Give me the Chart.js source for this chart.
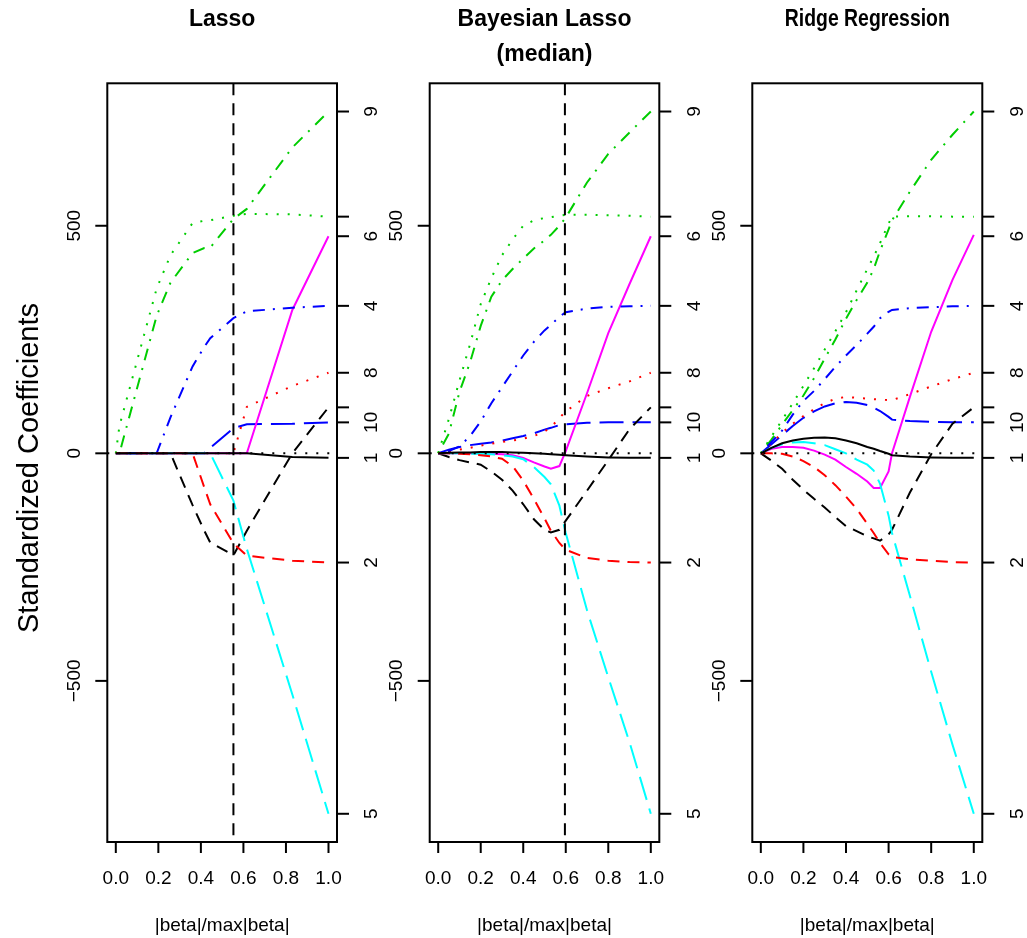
<!DOCTYPE html>
<html>
<head>
<meta charset="utf-8">
<script src="https://cdn.jsdelivr.net/npm/chart.js@4.4.1/dist/chart.umd.min.js"></script>
<style>
  html, body { margin: 0; padding: 0; background: #fff; }
  #wrap { position: relative; width: 1027px; height: 938px; }
  canvas { position: absolute; left: 0; top: 0; }
</style>
</head>
<body>
<div id="wrap">
  <canvas id="lasso" width="1027" height="938"></canvas>
  <canvas id="blasso" width="1027" height="938"></canvas>
  <canvas id="ridge" width="1027" height="938"></canvas>
</div>
<script>
// variables: age, sex, bmi, map, tc, ldl, hdl, tch, ltg, glu (numbered 1..10)
const olsCoef = [-10, -240, 520, 324, -792, 477, 101, 177, 751, 68];
const rightLabels = ['1', '2', '', '4', '5', '6', '', '8', '9', '10'];
const leftTicks = [-500, 0, 500];
const xTicks = [0, 0.2, 0.4, 0.6, 0.8, 1.0];

// Lasso path (|beta|/max|beta| at each breakpoint)
const lassoX = [0, 0.017, 0.192, 0.257, 0.361, 0.416, 0.444, 0.553, 0.616, 0.83, 1.0];
const lassoPaths = [
  [0, 0, 0, 0, 0, 0, 0, 0, 0, -8, -10],                    // 1
  [0, 0, 0, 0, 0, -75, -112, -198, -225, -236, -240],      // 2
  [0, 60, 362, 435, 506, 511, 512, 522, 526, 525, 520],    // 3
  [0, 0, 0, 79, 191, 234, 253, 297, 312, 320, 324],        // 4
  [0, 0, 0, 0, 0, 0, 0, -104, -210, -530, -792],           // 5
  [0, 0, 0, 0, 0, 0, 0, 0, 0, 315, 477],                   // 6
  [0, 0, 0, 0, -114, -170, -196, -224, -170, 0, 101],      // 7
  [0, 0, 0, 0, 0, 0, 0, 0, 102, 148, 177],                 // 8
  [0, 0, 302, 375, 440, 451, 452, 515, 537, 672, 751],     // 9
  [0, 0, 0, 0, 0, 0, 12, 55, 64, 65, 68]                   // 10
];

// Bayesian lasso posterior medians
const blassoX = [0, 0.05, 0.1, 0.15, 0.2, 0.25, 0.3, 0.35, 0.4, 0.45, 0.5, 0.53, 0.57, 0.6, 0.7, 0.8, 0.9, 1.0];
const blassoPaths = [
  [0, 1, 2, 2, 3, 3, 3, 2, 1, 0, -1, -2, -3, -4, -7, -9, -10, -10],
  [0, 0, -1, -2, -4, -7, -12, -28, -60, -100, -143, -170, -197, -212, -230, -236, -239, -240],
  [0, 75, 160, 240, 328, 385, 435, 470, 500, 512, 517, 519, 522, 524, 524, 523, 522, 520],
  [0, 5, 15, 38, 70, 110, 145, 180, 215, 245, 270, 282, 300, 310, 318, 322, 323, 324],
  [0, 0, 0, -1, -1, -2, -4, -7, -13, -30, -52, -68, -115, -175, -345, -492, -635, -792],
  [0, 0, 0, 0, 0, -1, -2, -4, -10, -20, -29, -34, -28, 5, 132, 264, 372, 477],
  [0, -8, -15, -20, -25, -40, -58, -82, -112, -145, -168, -174, -168, -148, -82, -15, 53, 101],
  [0, 3, 8, 12, 17, 21, 25, 28, 32, 38, 48, 57, 78, 92, 126, 143, 158, 177],
  [0, 43, 135, 200, 280, 344, 380, 405, 428, 450, 468, 480, 500, 518, 595, 658, 705, 751],
  [0, 8, 14, 18, 21, 24, 28, 33, 38, 44, 52, 56, 62, 64, 67, 68, 68, 68]
];

// Ridge regression
const ridgeX = [0, 0.05, 0.1, 0.15, 0.2, 0.25, 0.3, 0.35, 0.4, 0.45, 0.5, 0.53, 0.56, 0.6, 0.616, 0.7, 0.8, 0.9, 1.0];
const ridgePaths = [
  [0, 12, 22, 28, 32, 34, 35, 33, 28, 22, 14, 10, 5, -1, -4, -7, -9, -10, -10],
  [0, 0, -1, -7, -17, -30, -48, -70, -95, -122, -155, -175, -197, -222, -228, -233, -236, -239, -240],
  [0, 37, 73, 110, 148, 187, 228, 268, 310, 358, 405, 432, 462, 505, 520, 521, 521, 520, 520],
  [0, 25, 50, 85, 115, 137, 163, 190, 215, 238, 263, 278, 297, 311, 315, 319, 321, 323, 324],
  [0, 12, 20, 24, 25, 22, 18, 9, 0, -14, -25, -38, -67, -137, -175, -313, -480, -640, -792],
  [0, 10, 14, 14, 12, 6, -3, -14, -30, -45, -62, -76, -76, -40, 0, 124, 267, 381, 480],
  [0, -16, -34, -58, -80, -100, -119, -140, -160, -171, -182, -187, -192, -178, -168, -86, -2, 65, 101],
  [0, 22, 45, 65, 82, 97, 110, 120, 124, 122, 120, 119, 118, 117, 117, 130, 147, 163, 177],
  [0, 30, 63, 95, 127, 165, 208, 250, 296, 337, 375, 405, 445, 492, 512, 575, 645, 700, 751],
  [0, 20, 40, 60, 78, 92, 103, 110, 113, 111, 106, 100, 93, 80, 74, 71, 69, 68, 68]
];

const colors = ['#000000', '#FF0000', '#00CD00', '#0000FF', '#00FFFF', '#FF00FF', '#000000', '#FF0000', '#00CD00', '#0000FF'];
const ltys = ['solid', 'dashed', 'dotted', 'dotdash', 'longdash', 'solid', 'dashed', 'dotted', 'dotdash', 'longdash'];
const dashes = { solid: [], dashed: [12, 8], dotted: [2, 9], dotdash: [2, 8, 12, 8], longdash: [24, 9] };

const W = 1027, H = 938;
const BOX_TOP = 83.3, BOX_BOTTOM = 842;
const FONT = '"Liberation Sans", Arial, Helvetica, sans-serif';

function rotText(ctx, txt, x, y) {
  ctx.save();
  ctx.translate(x, y);
  ctx.rotate(-Math.PI / 2);
  ctx.fillText(txt, 0, 0);
  ctx.restore();
}

// base-R style axes, box, titles and reference lines
const rAxes = {
  id: 'rAxes',
  afterDatasetsDraw(chart, args, o) {
    const { ctx, chartArea: a } = chart;
    const x = chart.scales.x, y = chart.scales.y;
    ctx.save();
    ctx.strokeStyle = '#000';
    ctx.fillStyle = '#000';
    ctx.lineWidth = 2;

    // zero line
    const y0 = y.getPixelForValue(0);
    ctx.setLineDash(dashes.dotted);
    ctx.beginPath(); ctx.moveTo(a.left, y0); ctx.lineTo(a.right, y0); ctx.stroke();
    // chosen model
    if (o.vline != null) {
      const xv = x.getPixelForValue(o.vline);
      ctx.setLineDash(dashes.dashed);
      ctx.beginPath(); ctx.moveTo(xv, a.top); ctx.lineTo(xv, a.bottom); ctx.stroke();
    }
    ctx.setLineDash([]);
    ctx.strokeRect(a.left, a.top, a.right - a.left, a.bottom - a.top);

    ctx.font = '19px ' + FONT;
    ctx.textAlign = 'center';
    ctx.textBaseline = 'alphabetic';
    xTicks.forEach(v => {
      const px = x.getPixelForValue(v);
      ctx.beginPath(); ctx.moveTo(px, a.bottom); ctx.lineTo(px, a.bottom + 11); ctx.stroke();
      ctx.fillText(v.toFixed(1), px, 884);
    });
    ctx.fillText('|beta|/max|beta|', (a.left + a.right) / 2, 931);

    ctx.textBaseline = 'middle';
    leftTicks.forEach(v => {
      const py = y.getPixelForValue(v);
      ctx.beginPath(); ctx.moveTo(a.left - 12, py); ctx.lineTo(a.left, py); ctx.stroke();
      rotText(ctx, String(v).replace('-', '\u2212'), a.left - 33, py);
    });
    olsCoef.forEach((v, i) => {
      const py = y.getPixelForValue(v);
      ctx.beginPath(); ctx.moveTo(a.right, py); ctx.lineTo(a.right + 12, py); ctx.stroke();
      if (rightLabels[i]) rotText(ctx, rightLabels[i], a.right + 35, py);
    });

    ctx.font = 'bold 23px ' + FONT;
    ctx.textBaseline = 'alphabetic';
    o.title.forEach((t, i) => {
      ctx.fillText(t, (a.left + a.right) / 2, 25.5 + i * 35, o.titleWidth || undefined);
    });

    if (o.ylab) {
      ctx.font = '29px ' + FONT;
      ctx.textBaseline = 'middle';
      rotText(ctx, o.ylab, 30, 468);
    }
    ctx.restore();
  }
};

function makePanel(id, xs, paths, left, right, extra) {
  const datasets = paths.map((p, i) => ({
    label: String(i + 1),
    data: xs.map((v, j) => ({ x: v, y: p[j] })),
    borderColor: colors[i],
    borderDash: dashes[ltys[i]],
    borderWidth: 2,
    pointRadius: 0,
    tension: 0,
    fill: false
  }));
  return new Chart(document.getElementById(id).getContext('2d'), {
    type: 'line',
    data: { datasets },
    options: {
      responsive: false,
      animation: false,
      devicePixelRatio: 1,
      layout: { padding: { left: left, right: W - right, top: BOX_TOP, bottom: H - BOX_BOTTOM } },
      scales: {
        x: { type: 'linear', min: -0.04, max: 1.04, display: false },
        y: { type: 'linear', min: -854, max: 813, display: false }
      },
      plugins: {
        legend: { display: false },
        tooltip: { enabled: false },
        rAxes: extra
      }
    },
    plugins: [rAxes]
  });
}

makePanel('lasso', lassoX, lassoPaths, 107.3, 337, { title: ['Lasso'], vline: 0.553, ylab: 'Standardized Coefficients' });
makePanel('blasso', blassoX, blassoPaths, 429.7, 659.3, { title: ['Bayesian Lasso', '(median)'], vline: 0.596 });
makePanel('ridge', ridgeX, ridgePaths, 752.3, 982.3, { title: ['Ridge Regression'], titleWidth: 165 });
</script>
</body>
</html>
